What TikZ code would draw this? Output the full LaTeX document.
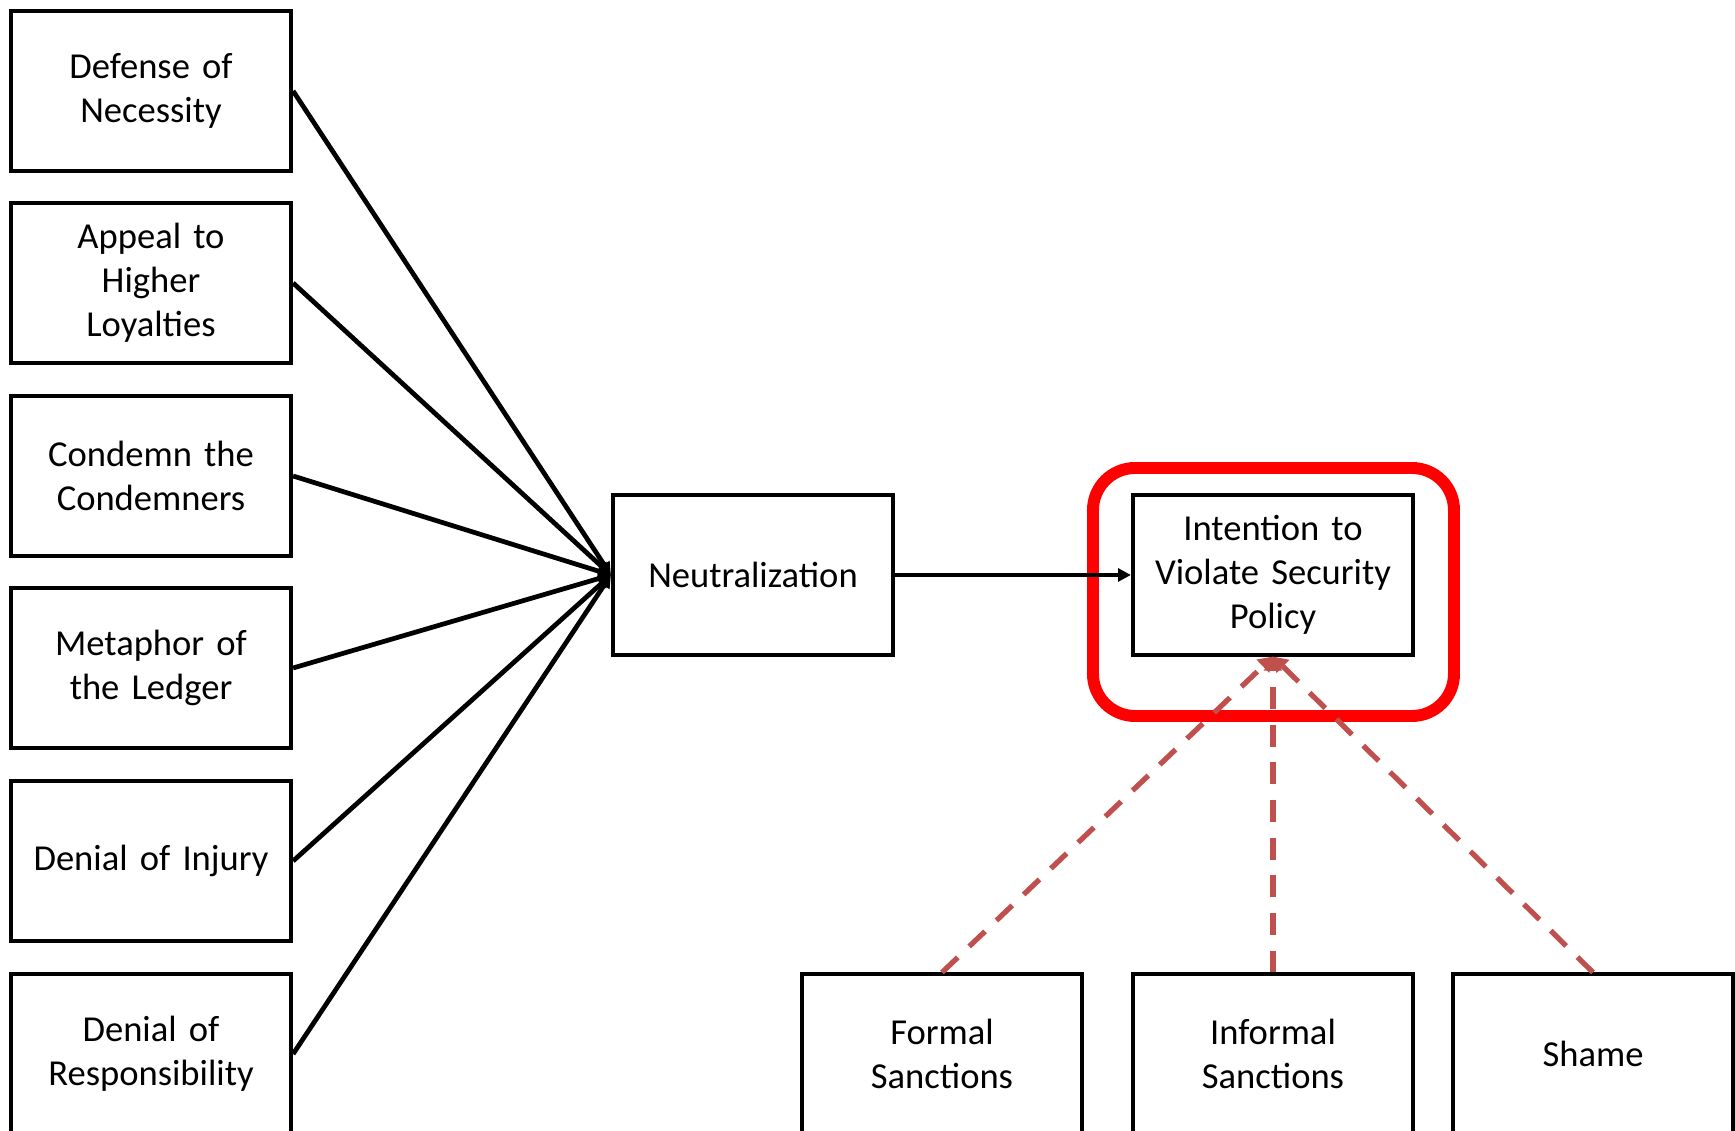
\documentclass[tikz,border=0pt]{standalone}
\usepackage{fontspec}
\setmainfont[WordSpace=0.9]{Carlito}
\usetikzlibrary{arrows.meta}
\definecolor{dashred}{HTML}{C0504D}
\begin{document}
\begin{tikzpicture}[x=0.01cm,y=-0.01cm,
  box/.style={draw, line width=1.15pt, minimum width=2.8cm, minimum height=1.59cm,
    text width=2.7cm, align=center, inner sep=0pt,
    font=\fontsize{10.4pt}{12.5pt}\selectfont},
  conn/.style={line width=1.35pt, -{Triangle[length=3.6pt,width=3.6pt]}},
  moderator/.style={dashred, line width=1.5pt, dash pattern=on 6.2pt off 4.5pt,
    -{Triangle[length=4pt,width=5pt]}}]
\useasboundingbox (0,0) rectangle (1735,1131);

% techniques of neutralization
\node[box] (t1) at (151,91) {Defense of\\Necessity};
\node[box] (t2) at (151,283) {Appeal to\\Higher\\Loyalties};
\node[box] (t3) at (151,476) {Condemn the\\Condemners};
\node[box] (t4) at (151,668) {Metaphor of\\the Ledger};
\node[box] (t5) at (151,861) {Denial of Injury};
\node[box] (t6) at (151,1054) {Denial of\\Responsibility};

\node[box] (neut) at (753,575) {Neutralization};
\node[box] (intent) at (1273,575) {Intention to\\Violate Security\\Policy};

% deterrence factors
\node[box] (formal) at (942,1054) {Formal\\Sanctions};
\node[box] (informal) at (1273,1054) {Informal\\Sanctions};
\node[box] (shame) at (1593,1054) {Shame};

% highlight around the outcome
\draw[red, line width=3.4pt, rounded corners=0.42cm] (1093,468) rectangle (1454,716);

\foreach \t in {t1,t2,t3,t4,t5,t6}
  \draw[conn] (\t.east) -- (neut.west);
\draw[conn] (neut.east) -- (intent.west);

\foreach \m in {formal,informal,shame}
  \draw[moderator] (\m.north) -- (intent.south);
\end{tikzpicture}
\end{document}
